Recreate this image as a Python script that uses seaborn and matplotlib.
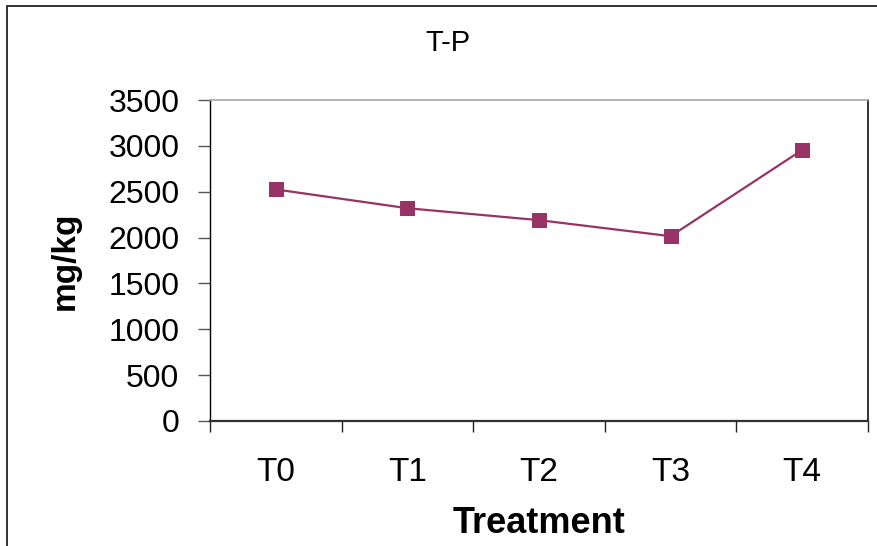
import matplotlib
matplotlib.use("Agg")
import matplotlib.pyplot as plt
from matplotlib.lines import Line2D
import seaborn as sns
import pandas as pd

# Total phosphorus by treatment
treatments = ["T0", "T1", "T2", "T3", "T4"]
tp_values = [2525, 2320, 2190, 2015, 2955]
y_ticks = [0, 500, 1000, 1500, 2000, 2500, 3000, 3500]

sns.set_style("white")
plt.rcParams["font.family"] = ["Liberation Sans", "DejaVu Sans"]
plt.rcParams["text.color"] = "black"
plt.rcParams["axes.labelcolor"] = "black"

W, H = 878, 546
fig = plt.figure(figsize=(W / 100, H / 100), dpi=100)
ax = fig.add_axes([210 / W, 1 - 421 / H, (868 - 210) / W, (421 - 100) / H])

df = pd.DataFrame({"Treatment": treatments, "TP": tp_values})
line_color = "#993366"
sns.lineplot(data=df, x="Treatment", y="TP", ax=ax, color=line_color,
             linewidth=1.6, marker="s", markersize=9.5,
             markeredgecolor=line_color, markerfacecolor=line_color,
             sort=False)

ax.set_xlim(-0.5, len(treatments) - 0.5)
ax.set_ylim(0, 3500)
ax.set_yticks(y_ticks)
ax.set_yticklabels([str(v) for v in y_ticks], fontsize=23)
ax.set_xticks(range(len(treatments)))
ax.set_xticklabels(treatments, fontsize=24)
ax.set_xticks([i - 0.5 for i in range(len(treatments) + 1)], minor=True)

ax.tick_params(axis="y", which="major", direction="out", length=9, width=1,
               color="#555555", labelcolor="black", pad=13, left=True)
ax.tick_params(axis="x", which="major", length=0, pad=26, bottom=True,
               labelcolor="black")
ax.tick_params(axis="x", which="minor", direction="out", length=8, width=1,
               color="#222222", bottom=True)

ax.set_xlabel("Treatment", fontsize=26, fontweight="bold", labelpad=13,
              color="black")
ax.set_ylabel("mg/kg", fontsize=24, fontweight="bold", labelpad=20,
              color="black")

for side in ["left", "right", "top", "bottom"]:
    ax.spines[side].set_visible(True)
ax.spines["left"].set_color("#000000")
ax.spines["left"].set_linewidth(1.0)
ax.spines["right"].set_color("#111111")
ax.spines["right"].set_linewidth(1.2)
ax.spines["top"].set_color("#a8a8a8")
ax.spines["top"].set_linewidth(1.2)
ax.spines["bottom"].set_color("#333333")
ax.spines["bottom"].set_linewidth(1.6)

fig.text(448 / W, 1 - 29 / H, "T-P", ha="center", va="top", fontsize=21,
         color="black")

# outer chart border
fig.add_artist(Line2D([7 / W, 7 / W], [0, 1 - 6 / H], transform=fig.transFigure,
                      color="#333333", linewidth=1.4))
fig.add_artist(Line2D([7 / W, 1], [1 - 6 / H, 1 - 6 / H], transform=fig.transFigure,
                      color="#333333", linewidth=1.4))

fig.savefig("out.png", dpi=100, facecolor="white")
